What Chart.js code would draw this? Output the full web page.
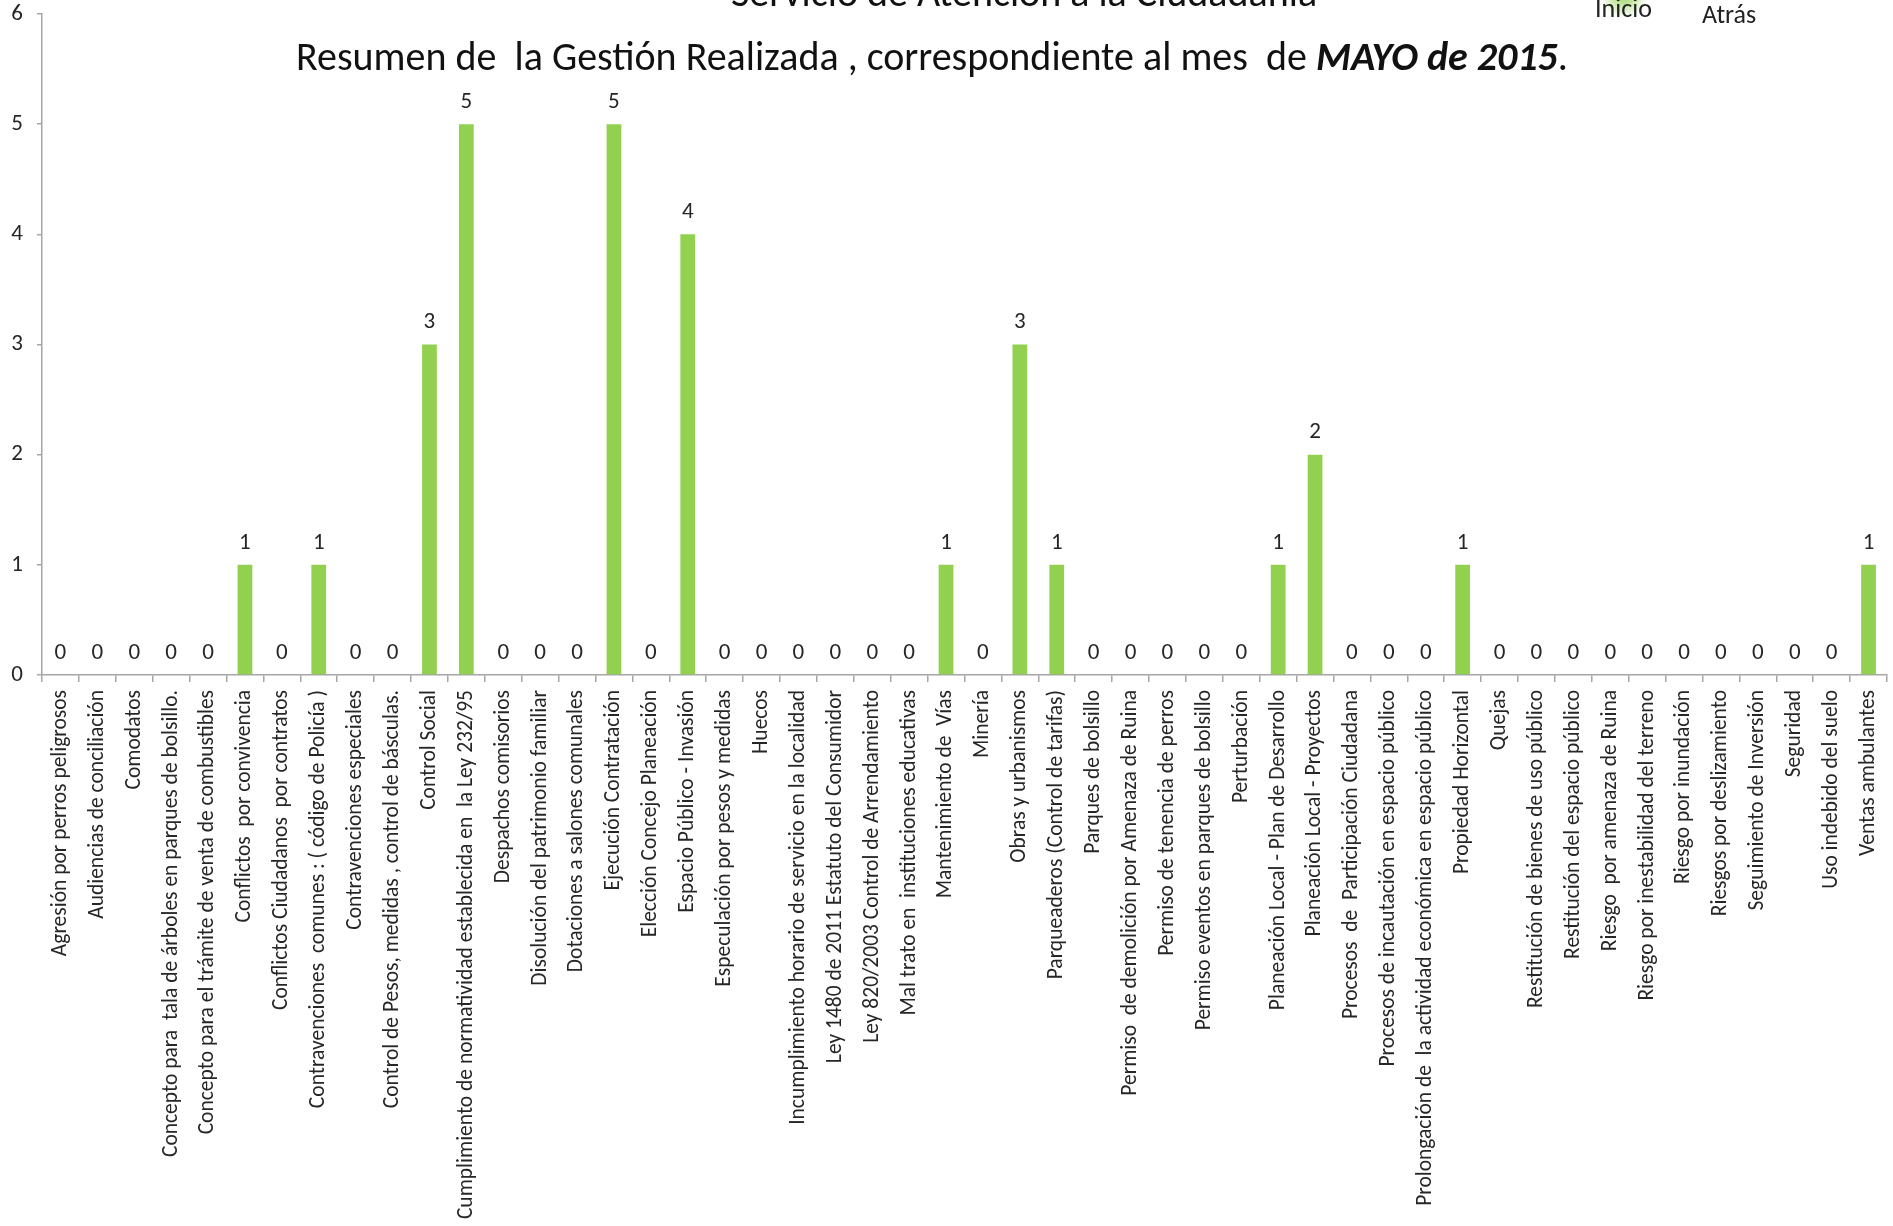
<!DOCTYPE html>
<html>
<head>
<meta charset="utf-8">
<script src="https://cdn.jsdelivr.net/npm/chart.js@4.4.1/dist/chart.umd.min.js"></script>
<style>
  html, body { margin: 0; padding: 0; background: #fff; }
  #wrap { position: relative; width: 1893px; height: 1226px; }
</style>
</head>
<body>
<div id="wrap"><canvas id="chart"></canvas></div>
<script>
const categories = [
  'Agresión por perros peligrosos',
  'Audiencias de conciliación',
  'Comodatos',
  'Concepto para  tala de árboles en parques de bolsillo.',
  'Concepto para el trámite de venta de combustibles',
  'Conflictos  por convivencia',
  'Conflictos Ciudadanos  por contratos',
  'Contravenciones  comunes : ( código de Policía )',
  'Contravenciones especiales',
  'Control de Pesos, medidas , control de básculas.',
  'Control Social',
  'Cumplimiento de normatividad establecida en  la Ley 232/95',
  'Despachos comisorios',
  'Disolución del patrimonio familiar',
  'Dotaciones a salones comunales',
  'Ejecución Contratación',
  'Elección Concejo Planeación',
  'Espacio Público - Invasión',
  'Especulación por pesos y medidas',
  'Huecos',
  'Incumplimiento horario de servicio en la localidad',
  'Ley 1480 de 2011 Estatuto del Consumidor',
  'Ley 820/2003 Control de Arrendamiento',
  'Mal trato en  instituciones educativas',
  'Mantenimiento de  Vías',
  'Minería',
  'Obras y urbanismos',
  'Parqueaderos (Control de tarifas)',
  'Parques de bolsillo',
  'Permiso  de demolición por Amenaza de Ruina',
  'Permiso de tenencia de perros',
  'Permiso eventos en parques de bolsillo',
  'Perturbación',
  'Planeación Local - Plan de Desarrollo',
  'Planeación Local - Proyectos',
  'Procesos  de  Participación Ciudadana',
  'Procesos de incautación en espacio público',
  'Prolongación de  la actividad económica en espacio público',
  'Propiedad Horizontal',
  'Quejas',
  'Restitución de bienes de uso público',
  'Restitución del espacio público',
  'Riesgo  por amenaza de Ruina',
  'Riesgo por inestabilidad del terreno',
  'Riesgo por inundación',
  'Riesgos por deslizamiento',
  'Seguimiento de Inversión',
  'Seguridad',
  'Uso indebido del suelo',
  'Ventas ambulantes'
];

const casos = [
  0, 0, 0, 0, 0, 1, 0, 1, 0, 0,
  3, 5, 0, 0, 0, 5, 0, 4, 0, 0,
  0, 0, 0, 0, 1, 0, 3, 1, 0, 0,
  0, 0, 0, 1, 2, 0, 0, 0, 1, 0,
  0, 0, 0, 0, 0, 0, 0, 0, 0, 1
];

const yTicks = [0, 1, 2, 3, 4, 5, 6];

const FONT = 'Carlito, Lato, sans-serif';
Chart.defaults.font.family = FONT;
Chart.defaults.color = '#262626';

// value above each bar
const valueLabels = {
  id: 'valueLabels',
  afterDatasetsDraw(chart) {
    const ctx = chart.ctx;
    const meta = chart.getDatasetMeta(0);
    ctx.save();
    ctx.font = '23px ' + FONT;
    ctx.fillStyle = '#262626';
    ctx.textAlign = 'center';
    ctx.textBaseline = 'middle';
    meta.data.forEach((bar, i) => {
      ctx.fillText(String(casos[i]), bar.x, bar.y - 22);
    });
    ctx.restore();
  }
};

// headings drawn over the plot, as in the original slide
const headings = {
  id: 'headings',
  afterDraw(chart) {
    const ctx = chart.ctx;
    ctx.save();

    // bit of the green "Inicio" button poking in from the top
    const g = ctx.createRadialGradient(1624, -6, 2, 1624, -6, 24);
    g.addColorStop(0, 'rgba(146,208,80,0.9)');
    g.addColorStop(1, 'rgba(146,208,80,0)');
    ctx.fillStyle = g;
    ctx.fillRect(1596, 0, 56, 20);

    ctx.fillStyle = '#111';
    ctx.textBaseline = 'alphabetic';

    ctx.font = '40px ' + FONT;
    ctx.textAlign = 'center';
    ctx.fillText('Servicio de Atención a la Ciudadanía', 1024, 6);

    const a = 'Resumen de  la Gestión Realizada , correspondiente al mes  de ';
    const b = 'MAYO de 2015';
    const c = '.';
    const fa = '40px ' + FONT, fb = 'italic bold 40px ' + FONT;
    ctx.textAlign = 'left';
    ctx.font = fa; const wa = ctx.measureText(a).width, wc = ctx.measureText(c).width;
    ctx.font = fb; const wb = ctx.measureText(b).width;
    let x = 932 - (wa + wb + wc) / 2;
    ctx.font = fa; ctx.fillText(a, x, 70); x += wa;
    ctx.font = fb; ctx.fillText(b, x, 70); x += wb;
    ctx.font = fa; ctx.fillText(c, x, 70);

    ctx.font = '26px ' + FONT;
    ctx.fillStyle = '#222';
    ctx.fillText('Inicio', 1595, 17);
    ctx.fillText('Atrás', 1702, 23);
    ctx.restore();
  }
};

new Chart(document.getElementById('chart'), {
  type: 'bar',
  data: {
    labels: categories,
    datasets: [{
      data: casos,
      backgroundColor: '#92D050',
      categoryPercentage: 1,
      barPercentage: 0.4
    }]
  },
  options: {
    responsive: true,
    maintainAspectRatio: false,
    animation: false,
    layout: { padding: { top: 14, right: 6, left: 0, bottom: 0 } },
    plugins: {
      legend: { display: false },
      tooltip: { enabled: false }
    },
    scales: {
      x: {
        afterFit(axis) {
          axis.height = 551;
          axis.paddingLeft = 0;
          axis.paddingRight = 0;
        },
        border: { color: '#a6a6a6', width: 1.5 },
        grid: { offset: true, drawOnChartArea: false, tickLength: 7, color: '#a6a6a6', lineWidth: 1.5 },
        ticks: {
          autoSkip: false,
          minRotation: 90,
          maxRotation: 90,
          padding: 8,
          font: { size: 21.5 },
          color: '#262626'
        }
      },
      y: {
        min: 0,
        max: 6,
        afterFit(axis) {
          axis.width = 42;
          axis.paddingTop = 0;
          axis.paddingBottom = 0;
        },
        afterBuildTicks(axis) { axis.ticks = yTicks.map(v => ({ value: v })); },
        border: { color: '#a6a6a6', width: 1.5 },
        grid: { drawOnChartArea: false, tickLength: 5, color: '#a6a6a6', lineWidth: 1.5 },
        ticks: { padding: 14, font: { size: 23 }, color: '#262626' }
      }
    }
  },
  plugins: [valueLabels, headings]
});
</script>
</body>
</html>
